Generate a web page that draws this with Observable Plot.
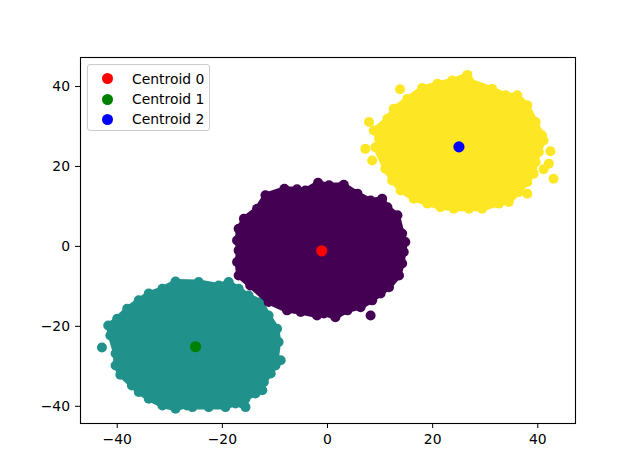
<!DOCTYPE html>
<html><head><meta charset="utf-8">
<script src="https://cdn.jsdelivr.net/npm/d3@7"></script>
<script src="https://cdn.jsdelivr.net/npm/@observablehq/plot@0.6"></script>
<style>
body{margin:0;background:#fff;font-family:"DejaVu Sans",sans-serif;}
#wrap{position:relative;width:640px;height:476px;}
#legend{position:absolute;left:87px;top:64px;width:123px;height:67px;border:1px solid #cccccc;border-radius:3px;background:rgba(255,255,255,0.8);box-sizing:border-box;font-size:13.9px;color:#000;}
#legend .row{position:absolute;left:0;height:20px;line-height:20px;white-space:nowrap;}
#legend .mk{position:absolute;left:14px;top:4.5px;width:11px;height:11px;border-radius:50%;}
#legend .lb{position:absolute;left:44px;top:0;}
</style>
</head><body>
<div id="wrap"></div>
<script>
// ---- data (data units) ----
const clusterColors = ["#440154", "#21918c", "#fde725"];

// cluster 0 (purple): points along the outline of the dense cloud
const cluster0Edge = [
  [-1.8,15.9],[0.3,15.3],[3.1,15.4],[5.7,13.2],[8.2,11.5],[10.4,11.9],[11.4,9.8],[13.3,7.8],
  [14.2,3.2],[14.8,1.1],[14.5,-1.4],[14.2,-4.3],[13.6,-7.3],[11.7,-10.2],[10.1,-11.8],[8.5,-13.5],
  [6.3,-15.2],[3.8,-16.0],[1.5,-17.7],[-0.7,-16.8],[-2.0,-17.3],[-5.1,-16.4],[-7.7,-16.0],
  [-11.2,-13.9],[-14.7,-9.8],[-16.9,-7.3],[-17.2,-3.9],[-16.9,-1.0],[-17.2,1.5],[-16.9,4.4],
  [-15.9,6.9],[-13.4,9.4],[-11.8,12.8],[-8.2,14.4],[-5.8,14.3],[-4.2,14.0]
];
const cluster0Stray = [[8.2,-17.3]];

// cluster 1 (teal)
const cluster1Edge = [
  [-28.9,-8.8],[-24.5,-8.9],[-20.7,-9.8],[-18.8,-8.9],[-16.9,-10.6],[-15.0,-12.3],[-12.7,-13.9],
  [-11.2,-17.3],[-9.6,-20.6],[-9.3,-23.9],[-9.9,-29.8],[-10.8,-31.8],[-12.1,-33.9],[-12.4,-36.0],
  [-13.7,-36.8],[-15.6,-38.1],[-15.6,-40.2],[-17.5,-39.3],[-19.4,-40.2],[-22.6,-40.2],[-25.7,-40.2],
  [-26.7,-39.8],[-28.9,-40.6],[-31.4,-39.8],[-34.0,-38.1],[-35.9,-36.4],[-37.2,-34.8],[-39.4,-32.1],
  [-40.3,-29.8],[-40.3,-26.8],[-41.3,-22.3],[-41.7,-19.8],[-40.0,-18.1],[-38.1,-15.6],[-35.9,-13.5],
  [-34.0,-11.8],[-31.4,-10.6]
];
const cluster1Stray = [[-42.9,-25.3],[-8.9,-28.5]];

// cluster 2 (yellow)
const cluster2Edge = [
  [15.2,36.9],[18.0,39.6],[20.9,40.7],[23.7,41.5],[26.6,42.9],[26.9,41.5],[31.3,39.4],[33.9,37.8],
  [36.1,37.8],[38.0,35.3],[39.6,31.1],[40.8,27.8],[41.1,26.5],[40.2,23.6],[39.6,21.1],[39.2,18.2],
  [38.0,16.1],[36.4,13.6],[34.5,11.1],[32.6,10.7],[29.4,9.4],[26.9,9.4],[24.0,9.4],[21.5,9.8],
  [19.0,10.7],[16.4,11.9],[13.9,14.0],[12.3,16.5],[11.0,19.4],[9.1,24.8],[9.8,26.9],[8.8,29.0],
  [11.4,31.9],[12.6,34.4]
];
const cluster2Stray = [[13.8,39.3],[7.9,31.1],[7.2,24.4],[8.5,21.5],[42.4,23.8],[42.1,20.7],[41.1,19.3],[43.0,16.9],[38.0,13.2]];

const centroidNames = ["Centroid 0", "Centroid 1", "Centroid 2"];
const centroidColors = ["red", "green", "blue"];
const centroidX = [-1.1, -25.1, 25.0];
const centroidY = [-1.1, -25.1, 24.9];

const xTicks = [-40, -20, 0, 20, 40];
const yTicks = [-40, -20, 0, 20, 40];

// ---- build ----
const clusters = [
  {edge: cluster0Edge, stray: cluster0Stray, color: clusterColors[0]},
  {edge: cluster1Edge, stray: cluster1Stray, color: clusterColors[1]},
  {edge: cluster2Edge, stray: cluster2Stray, color: clusterColors[2]}
];
const drawOrder = [1, 2, 0];
const centroids = centroidNames.map((n, i) => ({name: n, color: centroidColors[i], x: centroidX[i], y: centroidY[i]}));

const marks = [];
for (const k of drawOrder) {
  const c = clusters[k];
  const closed = c.edge.concat([c.edge[0]]);
  marks.push(Plot.line(closed, {x: d => d[0], y: d => d[1], fill: c.color, stroke: c.color, strokeWidth: 5, strokeLinejoin: "round"}));
  marks.push(Plot.dot(c.edge.concat(c.stray), {x: d => d[0], y: d => d[1], r: 5, fill: c.color, stroke: "none"}));
}
marks.push(Plot.dot(centroids, {x: "x", y: "y", r: 5.6, fill: d => d.color, stroke: "none"}));
marks.push(Plot.frame({stroke: "black", strokeWidth: 1.1}));

const chart = Plot.plot({
  width: 640, height: 476,
  marginLeft: 80, marginRight: 65, marginTop: 57, marginBottom: 53,
  style: {fontFamily: "DejaVu Sans, sans-serif", fontSize: "13.9px", background: "white", color: "black"},
  x: {domain: [-46.98, 47.17], ticks: xTicks, tickSize: 5, tickPadding: 6, label: null},
  y: {domain: [-44.3, 47.25], ticks: yTicks, tickSize: 5, tickPadding: 5.5, label: null},
  color: {type: "identity"},
  marks
});
const wrap = document.getElementById("wrap");
wrap.appendChild(chart);

const legend = document.createElement("div");
legend.id = "legend";
centroids.forEach((c, i) => {
  const row = document.createElement("div");
  row.className = "row";
  row.style.top = (3.7 + i * 20.3) + "px";
  const mk = document.createElement("span");
  mk.className = "mk"; mk.style.background = c.color;
  const lb = document.createElement("span");
  lb.className = "lb"; lb.textContent = c.name;
  row.appendChild(mk); row.appendChild(lb);
  legend.appendChild(row);
});
wrap.appendChild(legend);
</script>
</body></html>
